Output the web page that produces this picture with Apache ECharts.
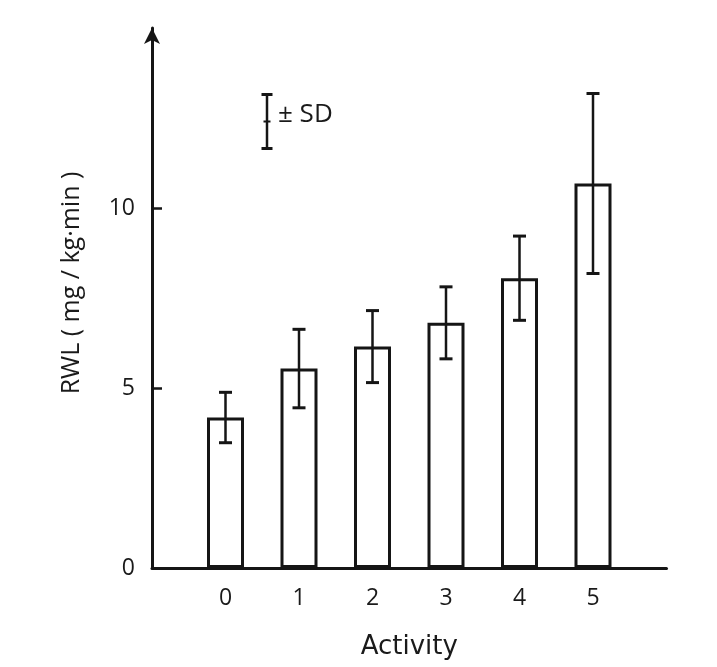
<!DOCTYPE html>
<html>
<head>
<meta charset="utf-8">
<title>RWL by Activity</title>
<script src="https://cdn.jsdelivr.net/npm/echarts@6/dist/echarts.min.js"></script>
<style>
  html, body { margin: 0; padding: 0; background: #ffffff; }
  #chart { width: 717px; height: 667px; }
</style>
</head>
<body>
<div id="chart"></div>
<script>
// Activity levels and respiratory water loss (mean and standard deviation)
const activityLevels = [0, 1, 2, 3, 4, 5];
const rwlMean = [4.18, 5.54, 6.15, 6.81, 8.05, 10.68];
const rwlSD = [0.70, 1.09, 1.00, 1.00, 1.17, 2.50];
const yTickValues = [0, 5, 10];

const ink = '#151515';
const chart = echarts.init(document.getElementById('chart'), null, { renderer: 'canvas' });

const barData = activityLevels.map((a, i) => [a, rwlMean[i]]);
const errData = activityLevels.map((a, i) => [a, rwlMean[i], rwlSD[i]]);

function renderErrorBar(params, api) {
  const x = api.value(0);
  const m = api.value(1);
  const s = api.value(2);
  const top = api.coord([x, m + s]);
  const bottom = api.coord([x, m - s]);
  const half = 6.5;
  return {
    type: 'group',
    children: [
      { type: 'line', shape: { x1: top[0], y1: top[1], x2: bottom[0], y2: bottom[1] }, style: { stroke: ink, lineWidth: 2.5 } },
      { type: 'line', shape: { x1: top[0] - half, y1: top[1], x2: top[0] + half, y2: top[1] }, style: { stroke: ink, lineWidth: 3 } },
      { type: 'line', shape: { x1: bottom[0] - half, y1: bottom[1], x2: bottom[0] + half, y2: bottom[1] }, style: { stroke: ink, lineWidth: 3 } }
    ]
  };
}

const option = {
  backgroundColor: '#ffffff',
  animation: false,
  grid: { left: 152, right: 50.5, top: 28, bottom: 99, containLabel: false },
  xAxis: {
    type: 'value',
    min: -1,
    max: 6,
    interval: 1,
    name: 'Activity',
    nameLocation: 'middle',
    nameGap: 66,
    nameTextStyle: { fontFamily: 'DejaVu Sans', fontSize: 26, color: '#1a1a1a' },
    axisLine: { show: true, onZero: false, lineStyle: { color: ink, width: 3 } },
    axisTick: { show: false },
    splitLine: { show: false },
    axisLabel: {
      customValues: activityLevels,
      margin: 19,
      fontFamily: 'Open Sans',
      fontSize: 23,
      color: '#1a1a1a',
      formatter: v => String(v)
    }
  },
  yAxis: {
    type: 'value',
    min: 0,
    max: 15,
    interval: 5,
    name: 'RWL ( mg / kg·min )',
    nameLocation: 'middle',
    nameGap: 68,
    nameTextStyle: { fontFamily: 'Open Sans', fontSize: 25, color: '#1a1a1a', padding: [0, 0, 0, 30] },
    axisLine: {
      show: true,
      onZero: false,
      symbol: ['none', 'arrow'],
      symbolSize: [12, 16],
      lineStyle: { color: ink, width: 3 }
    },
    axisTick: { show: true, inside: true, length: 10, customValues: [5, 10], lineStyle: { color: ink, width: 2.5 } },
    splitLine: { show: false },
    axisLabel: {
      customValues: yTickValues,
      margin: 17,
      fontFamily: 'Open Sans',
      fontSize: 23,
      color: '#1a1a1a'
    }
  },
  graphic: [
    {
      type: 'group',
      left: 259,
      top: 92,
      children: [
        { type: 'line', shape: { x1: 6, y1: 0, x2: 6, y2: 54 }, style: { stroke: ink, lineWidth: 2.5 } },
        { type: 'line', shape: { x1: 0.5, y1: 0, x2: 11.5, y2: 0 }, style: { stroke: ink, lineWidth: 3 } },
        { type: 'line', shape: { x1: 0.5, y1: 54, x2: 11.5, y2: 54 }, style: { stroke: ink, lineWidth: 3 } },
        { type: 'line', shape: { x1: 2.5, y1: 27, x2: 9.5, y2: 27 }, style: { stroke: ink, lineWidth: 2 } }
      ]
    },
    {
      type: 'text',
      left: 278,
      top: 102,
      style: { text: '± SD', font: '26px "Open Sans"', fill: '#1a1a1a' }
    }
  ],
  series: [
    {
      type: 'bar',
      data: barData,
      barWidth: 37,
      itemStyle: { color: '#ffffff', borderColor: ink, borderWidth: 3 },
      z: 2
    },
    {
      type: 'custom',
      data: errData,
      renderItem: renderErrorBar,
      z: 3
    }
  ]
};

chart.setOption(option);
</script>
</body>
</html>
